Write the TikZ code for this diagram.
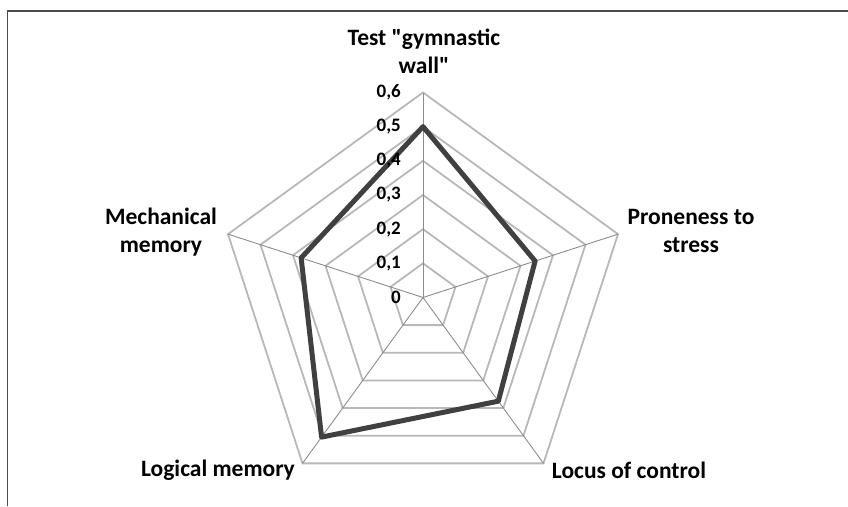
\documentclass[tikz,border=0pt]{standalone}
\usepackage{fontspec}
\setmainfont{Carlito}[Ligatures=TeXOff]
\begin{document}
\begin{tikzpicture}[x=1pt,y=1pt,
  ring/.style={draw=black!28, line width=1.8pt},
  spoke/.style={draw=black!45, line width=0.9pt},
  dataline/.style={draw=black!75, line width=5pt, line join=round},
  cat/.style={font=\bfseries\fontsize{23.5}{28}\selectfont, align=center, inner sep=0pt},
  ticklab/.style={font=\bfseries\fontsize{19}{20}\selectfont, anchor=east, inner sep=0pt},
  frameline/.style={draw=black!70, line width=1.8pt}]
\useasboundingbox (0,0) rectangle (848,-506);
\coordinate (f1) at (7.5,-506);
\coordinate (f2) at (7.5,-11);
\coordinate (f3) at (848,-11);
\draw[frameline] (f1) -- (f2) -- (f3);
\begin{scope}[shift={(423,-297.5)}]
  \coordinate (O) at (0,0);
  \foreach \k in {1,...,6}{
    \draw[ring] (90:{\k*34.17}) -- (18:{\k*34.17}) -- (-54:{\k*34.17}) -- (-126:{\k*34.17}) -- (162:{\k*34.17}) -- cycle;
  }
  \foreach \a/\n in {90/t,18/r,-54/br,-126/bl,162/l}{
    \coordinate (v\n) at (\a:205);
    \draw[spoke] (O) -- (v\n);
  }
  \coordinate (dt) at (90:{0.5*341.7});
  \coordinate (dr) at (18:{0.345*341.7});
  \coordinate (dbr) at (-54:{0.375*341.7});
  \coordinate (dbl) at (-126:{0.505*341.7});
  \coordinate (dl) at (162:{0.375*341.7});
  \draw[dataline] (dt) -- (dr) -- (dbr) -- (dbl) -- (dl) -- cycle;
  \foreach \k in {0,...,6}{
    \node[ticklab] (tick\k) at (-22,{\k*34.17}) {\ifnum\k=0 0\else 0,\k\fi};
  }
\end{scope}
\node[cat] (labT) at (424,-51) {Test "gymnastic\\wall"};
\node[cat] (labR) at (691,-231) {Proneness to\\stress};
\node[cat] (labBR) at (629,-470) {Locus of control};
\node[cat] (labBL) at (218,-470) {Logical memory};
\node[cat] (labL) at (161,-232) {Mechanical\\memory};
\end{tikzpicture}
\end{document}
